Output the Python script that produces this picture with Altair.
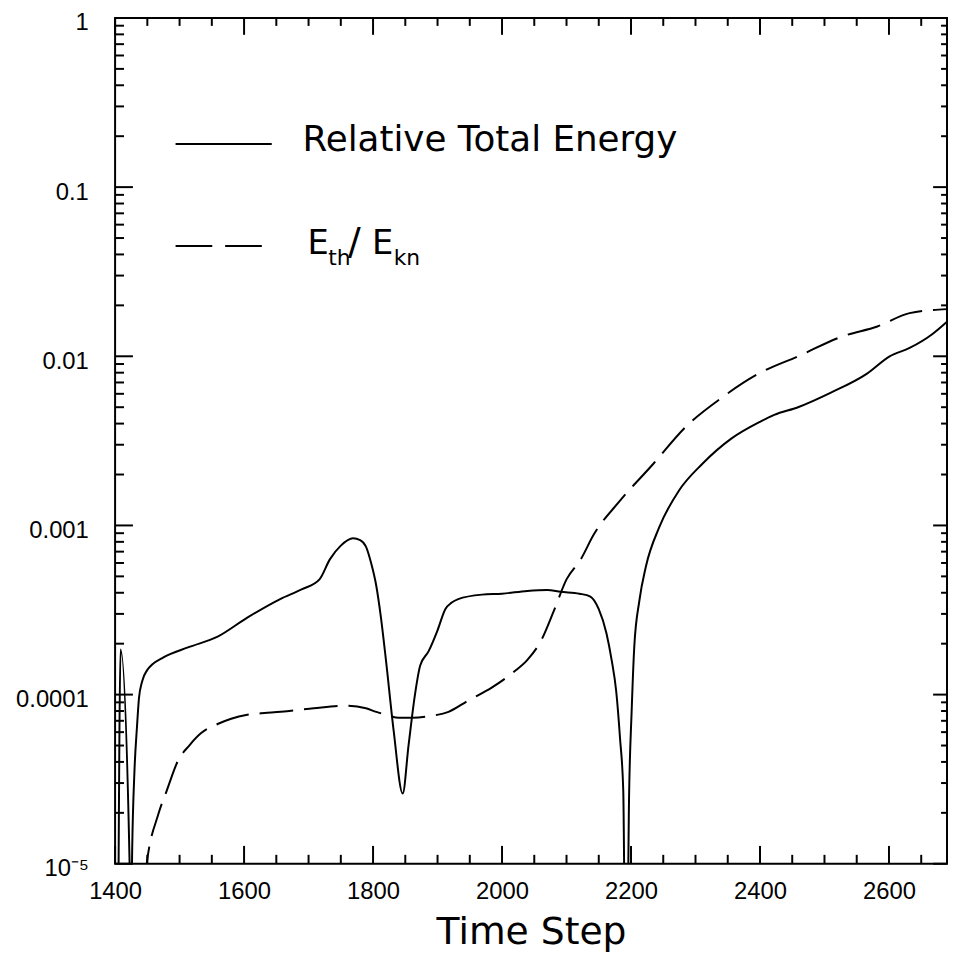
import altair as alt
import pandas as pd

# ---- data ----
# Relative Total Energy (solid line)
rte_step = [1405, 1408.5, 1422.5, 1424.5, 1426.5, 1430, 1434, 1437, 1442, 1450, 1457, 1475,
            1513, 1559, 1605, 1656, 1690, 1717, 1733, 1750, 1769, 1780, 1789, 1797, 1805,
            1812, 1820, 1832, 1846, 1855, 1865, 1873, 1886, 1900, 1912, 1922, 1932, 1969,
            2000, 2039, 2070, 2091, 2120, 2137, 2150, 2162, 2170, 2177, 2183, 2188, 2191,
            2194, 2197, 2201, 2205, 2213, 2223, 2244, 2275, 2310, 2356, 2400, 2422, 2459,
            2510, 2566, 2601, 2632, 2667, 2690]
rte_value = [5e-6, 1.85e-4, 1e-5, 3e-6, 1.2e-5, 3.5e-5, 6.5e-5, 9.5e-5, 1.2e-4, 1.4e-4, 1.5e-4, 1.66e-4,
             1.9e-4, 2.2e-4, 2.85e-4, 3.67e-4, 4.2e-4, 4.8e-4, 6.3e-4, 7.6e-4, 8.4e-4, 8.2e-4, 7.5e-4, 6.0e-4, 4.4e-4,
             2.9e-4, 1.6e-4, 6.1e-5, 2.6e-5, 5e-5, 1.0e-4, 1.48e-4, 1.8e-4, 2.4e-4, 3.2e-4, 3.5e-4, 3.67e-4, 3.9e-4,
             3.95e-4, 4.1e-4, 4.15e-4, 4.05e-4, 3.95e-4, 3.8e-4, 3.2e-4, 2.3e-4, 1.6e-4, 1.05e-4, 5.5e-5, 2.7e-5, 3e-6,
             3e-6, 2.5e-5, 8e-5, 1.9e-4, 3.6e-4, 5.7e-4, 9.8e-4, 1.62e-3, 2.3e-3, 3.27e-3, 4.1e-3, 4.5e-3, 5.0e-3,
             6.1e-3, 7.9e-3, 1.0e-2, 1.12e-2, 1.35e-2, 1.6e-2]

# E_th / E_kn (dashed line)
ratio_step = [1446, 1449, 1467, 1480, 1498, 1515, 1533, 1559, 1580, 1605, 1636, 1670, 1708,
              1759, 1789, 1805, 1820, 1840, 1861, 1892, 1917, 1947, 1984, 2019, 2039, 2061,
              2080, 2100, 2122, 2142, 2183, 2234, 2284, 2341, 2398, 2459, 2530, 2582, 2632, 2690]
ratio_value = [8e-6, 1e-5, 1.96e-5, 2.7e-5, 4.1e-5, 5.0e-5, 5.9e-5, 6.7e-5, 7.2e-5, 7.6e-5, 7.8e-5, 8.0e-5, 8.3e-5,
               8.6e-5, 8.3e-5, 7.9e-5, 7.6e-5, 7.3e-5, 7.3e-5, 7.5e-5, 7.9e-5, 9.2e-5, 1.1e-4, 1.37e-4, 1.6e-4, 2.1e-4,
               3.1e-4, 4.8e-4, 6.3e-4, 8.8e-4, 1.4e-3, 2.3e-3, 3.8e-3, 5.7e-3, 7.9e-3, 1.0e-2, 1.32e-2, 1.5e-2, 1.8e-2, 1.9e-2]

x_major_ticks = [1400, 1600, 1800, 2000, 2200, 2400, 2600]
x_minor_ticks = [1450, 1500, 1550, 1650, 1700, 1750, 1850, 1900, 1950, 2050, 2100, 2150,
                 2250, 2300, 2350, 2450, 2500, 2550, 2650]
y_major_ticks = [1e-5, 1e-4, 1e-3, 1e-2, 1e-1, 1]
y_tick_labels = ["10\u207b\u2075", "0.0001", "0.001", "0.01", "0.1", "1"]
y_minor_ticks = [m * d for d in [1e-5, 1e-4, 1e-3, 1e-2, 1e-1] for m in range(2, 10)]

legend_solid_label = "Relative Total Energy"
x_title = "Time Step"

# ---- chart ----
W, H = 839, 853
TICK_FONT = "Liberation Sans"
TEXT_FONT = "DejaVu Sans"
XMIN, XMAX = 1400, 2690
YMIN, YMAX = 1e-5, 1.0

xs = alt.Scale(domain=[XMIN, XMAX], nice=False, zero=False)
ys = alt.Scale(type="log", domain=[YMIN, YMAX], nice=False)

parts = []
for v, lab in zip(y_major_ticks[:-1], y_tick_labels[:-1]):
    parts.append(f"datum.value < {v * 3} ? '{lab}' : ")
label_expr = "".join(parts) + "'" + y_tick_labels[-1] + "'"

rte_df = pd.DataFrame({"step": rte_step, "value": rte_value})
ratio_df = pd.DataFrame({"step": ratio_step, "value": ratio_value})

x_axis = alt.Axis(orient="bottom", values=x_major_ticks, format="d", ticks=False, domain=False,
                  grid=False, labelFont=TICK_FONT, labelFontSize=24, labelColor="black",
                  labelPadding=16, title=x_title, titleFont=TEXT_FONT, titleFontSize=38,
                  titleFontWeight="normal", titleColor="black", titlePadding=10, labelFlush=False)
y_axis = alt.Axis(orient="left", values=y_major_ticks, labelExpr=label_expr, ticks=False,
                  domain=False, grid=False, labelFont=TICK_FONT, labelFontSize=24,
                  labelColor="black", labelPadding=27, labelOffset=5, title=None, labelFlush=False)

solid = alt.Chart(rte_df).mark_line(color="black", strokeWidth=2, clip=True,
                                    interpolate="monotone").encode(
    x=alt.X("step:Q", scale=xs, axis=x_axis),
    y=alt.Y("value:Q", scale=ys, axis=y_axis))
dashed = alt.Chart(ratio_df).mark_line(color="black", strokeWidth=2, clip=True,
                                       interpolate="monotone", strokeDash=[34, 11]).encode(
    x=alt.X("step:Q", scale=xs, axis=None),
    y=alt.Y("value:Q", scale=ys, axis=None))

def ytick(vals, x0, x1):
    return alt.Chart(pd.DataFrame({"yt": vals})).mark_rule(color="black", strokeWidth=2).encode(
        y=alt.Y("yt:Q", scale=ys, axis=None), x=alt.value(x0), x2=alt.value(x1))

one = pd.DataFrame({"a": [0]})

def xpix(v):
    # same linear mapping as the x scale (domain -> [0, W])
    return (v - XMIN) / (XMAX - XMIN) * W

def xtick_at(v, y0, y1):
    p = xpix(v)
    return alt.Chart(one).mark_rule(color="black", strokeWidth=2).encode(
        x=alt.value(p), x2=alt.value(p), y=alt.value(y0), y2=alt.value(y1))

x_ticks = ([xtick_at(v, H, H - 18) for v in x_major_ticks] +
           [xtick_at(v, H, H - 9) for v in x_minor_ticks] +
           [xtick_at(v, 0, 17) for v in x_major_ticks] +
           [xtick_at(v, 0, 8) for v in x_minor_ticks])
y_ticks = [
    ytick(y_major_ticks, 0, 18), ytick(y_minor_ticks, 0, 9),
    ytick(y_major_ticks, W - 14, W), ytick(y_minor_ticks, W - 6, W),
]

leg_solid = alt.Chart(one).mark_rule(color="black", strokeWidth=2).encode(
    x=alt.value(61), x2=alt.value(158), y=alt.value(127))
leg_dash = alt.Chart(one).mark_rule(color="black", strokeWidth=2, strokeDash=[37, 13]).encode(
    x=alt.value(61), x2=alt.value(150), y=alt.value(230))

def txt(s, x, y, size, baseline="alphabetic"):
    return alt.Chart(one).mark_text(text=s, align="left", baseline=baseline, font=TEXT_FONT,
                                    fontSize=size, color="black").encode(
        x=alt.value(x), y=alt.value(y))

leg_texts = [
    txt(legend_solid_label, 189, 134, 36),
    txt("E", 194, 238, 34),
    txt("th", 215, 249, 22),
    txt("/", 235, 238, 38),
    txt("E", 259, 238, 34),
    txt("kn", 281, 249, 22),
]

chart = alt.layer(solid, dashed, *y_ticks, *x_ticks, leg_solid, leg_dash, *leg_texts).properties(
    width=W, height=H,
    autosize=alt.AutoSizeParams(type="none"),
    padding={"left": 108, "top": 6, "right": 1, "bottom": 92},
).resolve_axis(x="independent", y="independent").configure(
    background="white").configure_view(stroke="black", strokeWidth=2)

chart.save("out.html", embed_options={"renderer": "svg", "actions": False})
